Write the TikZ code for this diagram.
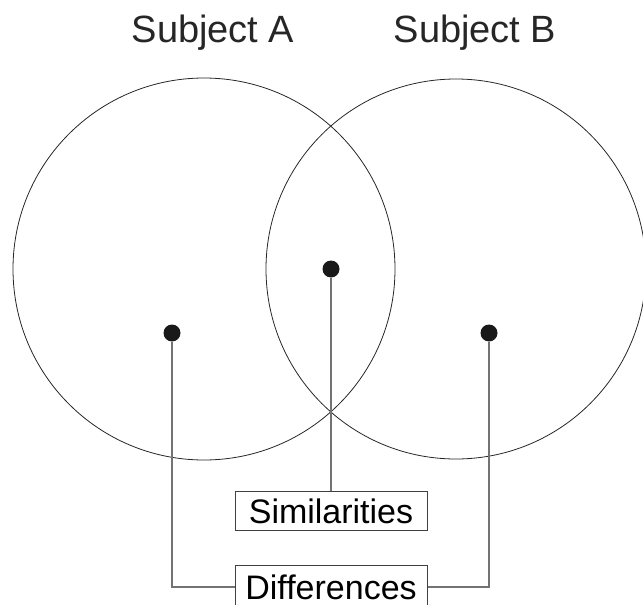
\documentclass[tikz,border=0pt]{standalone}
\usepackage{fontspec}
\setmainfont{Liberation Sans}
\usetikzlibrary{positioning, calc}

\begin{document}
\begin{tikzpicture}[
  x=1pt, y=-1pt,
  ring/.style={draw=black!85, line width=0.8pt},
  spot/.style={circle, fill=black!90, minimum size=17pt, inner sep=0pt},
  tag/.style={draw=black!75, line width=1pt, minimum width=192pt,
              minimum height=39pt, inner sep=0pt, font=\fontsize{34}{36}\selectfont},
  title/.style={font=\fontsize{38}{40}\selectfont, text=black!85},
  lead/.style={draw=black!55, line width=1.5pt}
]

\useasboundingbox (0,0) rectangle (643,605);

% Circles
\draw[ring] (204,269) circle (191);
\draw[ring] (456,269) circle (190);

% Titles
\node[title] (subA) at (213,33) {Subject A};
\node[title] (subB) at (475,33) {Subject B};

% Dots
\node[spot] (dotA) at (172,333) {};
\node[spot] (dotM) at (331,269) {};
\node[spot] (dotB) at (489,333) {};

% Labels
\node[tag] (sim) at (331,511) {Similarities};
\node[tag, minimum height=44pt] (diff) at (331,587) {Differences};

% Leads
\draw[lead] (dotM) -- (sim.north);
\draw[lead] (dotA) |- (diff.west);
\draw[lead] (dotB) |- (diff.east);

\end{tikzpicture}
\end{document}
